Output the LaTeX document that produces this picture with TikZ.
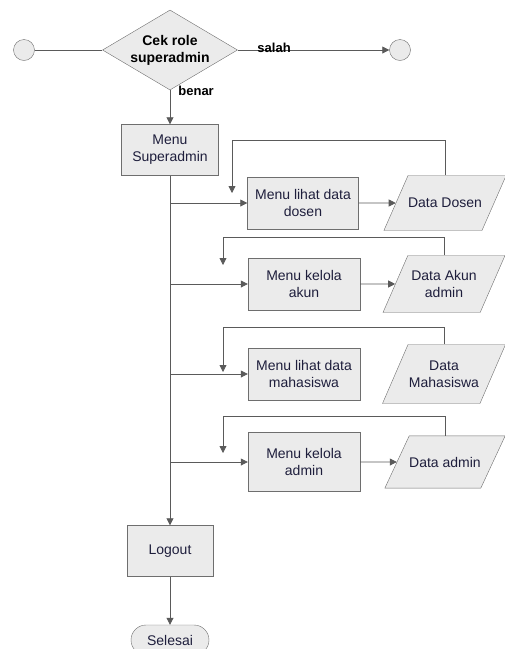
\documentclass[tikz,border=0pt]{standalone}
\usepackage{fontspec}
\setmainfont{Liberation Sans}
\usetikzlibrary{shapes,arrows.meta,positioning,calc}
\definecolor{linec}{HTML}{5A5A5A}
\definecolor{borderc}{HTML}{6E6E6E}
\definecolor{boxc}{HTML}{EBEBEB}
\definecolor{textc}{HTML}{1E1E3C}
\tikzstyle{block} = [rectangle, draw=borderc, fill=boxc, text=textc, align=center, inner sep=0pt, font=\fontsize{14}{17}\selectfont]
\tikzstyle{decision} = [diamond, draw=borderc, fill=boxc, align=center, inner sep=0pt, aspect=1.7, minimum width=135pt, minimum height=80pt, font=\fontsize{14}{17}\selectfont\bfseries]
\tikzstyle{io} = [trapezium, trapezium left angle=65, trapezium right angle=115, trapezium stretches body=true, draw=borderc, fill=boxc, text=textc, align=center, inner xsep=0pt, inner ysep=21pt, minimum width=118pt, minimum height=55pt, font=\fontsize{14}{17}\selectfont]
\tikzstyle{terminal} = [rounded rectangle, draw=borderc, fill=boxc, text=textc, inner sep=0pt, minimum width=78pt, minimum height=30pt, font=\fontsize{14}{17}\selectfont]
\tikzstyle{point} = [circle, draw=borderc, fill=boxc, minimum size=21pt, inner sep=0pt]
\tikzstyle{answer} = [inner sep=0pt, font=\fontsize{13}{15}\selectfont\bfseries]
\tikzstyle{flow} = [->, draw=linec, line width=0.8pt]

\begin{document}
\begin{tikzpicture}[x=1pt, y=-1pt, >={Triangle[length=7pt,width=7pt]}]
    \useasboundingbox (0,0) rectangle (505,649);
    \node[decision] (cek) at (170,50) {Cek role\\superadmin};
    \node[point, left of=cek, node distance=146pt] (start) {};
    \node[point, right of=cek, node distance=230pt] (stop) {};
    \node[block, below of=cek, node distance=100pt, minimum width=97pt, minimum height=51pt] (menuSA) {Menu\\Superadmin};

    \node[block, below of=menuSA, node distance=53pt, xshift=133pt, minimum width=111pt, minimum height=52pt] (lihatDosen) {Menu lihat data\\dosen};
    \node[io, right of=lihatDosen, node distance=142pt] (dataDosen) {Data Dosen};
    \node[block, below of=lihatDosen, node distance=81pt, xshift=1pt, minimum width=112pt, minimum height=52pt] (kelolaAkun) {Menu kelola\\akun};
    \node[io, right of=kelolaAkun, node distance=140pt, inner ysep=13pt, minimum width=122pt, minimum height=57pt] (dataAkun) {Data Akun\\admin};
    \node[block, below of=kelolaAkun, node distance=90pt, minimum width=112pt, minimum height=52pt] (lihatMhs) {Menu lihat data\\mahasiswa};
    \node[io, right of=lihatMhs, node distance=140pt, inner ysep=14pt, minimum width=123pt, minimum height=59pt] (dataMhs) {Data\\Mahasiswa};
    \node[block, below of=lihatMhs, node distance=88pt, minimum width=112pt, minimum height=59pt] (kelolaAdmin) {Menu kelola\\admin};
    \node[io, right of=kelolaAdmin, node distance=141pt, minimum height=52pt] (dataAdmin) {Data admin};

    \node[block, below of=menuSA, node distance=401pt, minimum width=86pt, minimum height=51pt] (logout) {Logout};
    \node[terminal, below of=logout, node distance=89pt] (selesai) {Selesai};

    \coordinate (retDosen) at (232,193);
    \coordinate (retAkun) at (223,265);
    \coordinate (retMhs) at (223,372);
    \coordinate (retAdmin) at (223,453);

    % cek role
    \draw[draw=linec, line width=0.8pt] (start) -- (cek);
    \draw[flow] (cek) -- node[answer, pos=0.24, yshift=2pt] {salah} (stop);
    \draw[flow] (cek) -- node[answer, pos=0.03, anchor=west, xshift=8pt] {benar} (menuSA);

    % menu superadmin
    \draw[flow] (menuSA) -- (logout);
    \draw[flow] (menuSA.south |- lihatDosen.west) -- (lihatDosen.west);
    \draw[flow] (menuSA.south |- kelolaAkun.west) -- (kelolaAkun.west);
    \draw[flow] (menuSA.south |- lihatMhs.west) -- (lihatMhs.west);
    \draw[flow] (menuSA.south |- kelolaAdmin.west) -- (kelolaAdmin.west);

    % data
    \draw[flow] (lihatDosen) -- (dataDosen);
    \draw[flow] (kelolaAkun) -- (dataAkun);
    \draw[flow] (kelolaAdmin) -- (dataAdmin);

    % kembali
    \draw[flow] (dataDosen.north) -- ++(0,-35) -| (retDosen);
    \draw[flow] (dataAkun.north) -- ++(0,-18) -| (retAkun);
    \draw[flow] (dataMhs.north) -- ++(0,-17) -| (retMhs);
    \draw[flow] (dataAdmin.north) -- ++(0,-19) -| (retAdmin);

    \draw[flow] (logout) -- (selesai);
\end{tikzpicture}
\end{document}
